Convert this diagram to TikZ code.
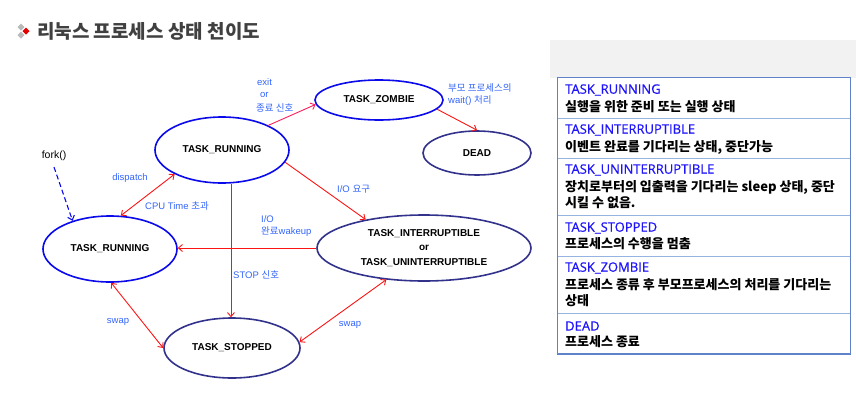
\documentclass[tikz,border=0pt]{standalone}
\usepackage{fontspec}
\setmainfont{Liberation Sans}
\newfontfamily\kr{Noto Sans CJK KR}
\newfontfamily\os[FakeBold=0.7]{Open Sans}
\usetikzlibrary{shapes.geometric,arrows.meta}
\definecolor{brightblue}{RGB}{10,10,235}
\definecolor{navy}{RGB}{50,50,140}
\definecolor{lblue}{RGB}{50,100,250}
\definecolor{arred}{RGB}{250,20,20}
\definecolor{arpink}{RGB}{250,30,90}
\definecolor{ttlblue}{RGB}{30,20,250}
\definecolor{outerb}{RGB}{95,130,200}
\definecolor{innerb}{RGB}{150,180,225}
\definecolor{hdrgray}{RGB}{242,242,242}
\definecolor{ttlgray}{RGB}{64,64,64}
\tikzset{
  st/.style={ellipse,draw,line width=1.6pt,inner sep=0pt,align=center,
    font=\fontsize{10}{14.5}\selectfont\bfseries},
  stb/.style={st,draw=brightblue},
  stn/.style={st,draw=navy},
  lbl/.style={inner sep=0pt,text=lblue,font=\fontsize{9.5}{11}\selectfont},
  tr/.style={draw=arred,line width=0.9pt,-{Straight Barb[length=4pt,width=7pt]}},
  trd/.style={draw=arred,line width=0.9pt,{Straight Barb[length=4pt,width=7pt]}-{Straight Barb[length=4pt,width=7pt]}},
  rowt/.style={anchor=west,inner sep=0pt,text=ttlblue,font=\os\fontsize{13}{15}\selectfont},
  rowk/.style={anchor=west,inner sep=0pt,text=black,font=\kr\bfseries\fontsize{13}{15}\selectfont},
}
\begin{document}
\begin{tikzpicture}[x=1pt,y=-1pt]
\useasboundingbox (0,0) rectangle (856,402);
% title
\fill[gray!55] (21,23.5) -- (24.5,27) -- (21,30.5) -- (17.5,27) -- cycle;
\fill[gray!55] (21,31.5) -- (24.5,35) -- (21,38.5) -- (17.5,35) -- cycle;
\fill[red!90!black] (26,27.5) -- (29.5,31) -- (26,34.5) -- (22.5,31) -- cycle;
\node[anchor=west,inner sep=0pt,text=ttlgray,font=\kr\bfseries\fontsize{19}{21}\selectfont] (title) at (37,31) {리눅스 프로세스 상태 천이도};
% states
\node[stb,minimum width=134,minimum height=66] (trun) at (222,150) {TASK\_RUNNING};
\node[stb,minimum width=128,minimum height=40] (tz) at (379,100) {TASK\_ZOMBIE};
\node[stn,minimum width=108,minimum height=44] (dead) at (477,153) {DEAD};
\node[stb,minimum width=134,minimum height=66] (brun) at (110,249) {TASK\_RUNNING};
\node[stn,minimum width=136,minimum height=60] (tstop) at (232,348) {TASK\_STOPPED};
\node[stn,minimum width=214,minimum height=66] (tint) at (424,248) {TASK\_INTERRUPTIBLE\\or\\TASK\_UNINTERRUPTIBLE};
\node[inner sep=0pt,font=\fontsize{10.5}{12}\selectfont] (fork) at (54,156) {fork()};
% transitions
\draw[tr,draw=arpink] (trun.28) -- (tz.184);
\draw[tr] (tz.351) -- (dead.90);
\draw[tr] (trun.349) -- (tint.154);
\draw[tr] (trun.285) -- (trun.285 |- tstop.north);
\draw[tr] (tint.west) -- (tint.west -| brun.east);
\draw[trd] (brun.72) -- (trun.207);
\draw[trd] (brun.272) -- (tstop.180);
\draw[trd] (tstop.5) -- (tint.220);
\draw[draw=brightblue,line width=1.1pt,dash pattern=on 5pt off 3pt,-{Straight Barb[length=4pt,width=7pt]}] ([yshift=-6pt]fork.south) -- (brun.143);
% labels
\node[lbl,anchor=west] (l1) at (257,82) {exit};
\node[lbl,anchor=west] (l2) at (260,95) {or};
\node[lbl,anchor=west,font=\kr\fontsize{9.5}{11}\selectfont] (l3) at (256,108) {종료 신호};
\node[lbl,anchor=west,font=\kr\fontsize{9.5}{11}\selectfont] (l4) at (448,88) {부모 프로세스의};
\node[lbl,anchor=west] (l5) at (448,101) {wait() {\kr 처리}};
\node[lbl] (l6) at (130,178) {dispatch};
\node[lbl,anchor=west] (l7) at (145,206) {CPU Time {\kr 초과}};
\node[lbl,anchor=west] (l8) at (337,189) {I/O {\kr 요구}};
\node[lbl,anchor=west] (l9) at (261,219) {I/O};
\node[lbl,anchor=west] (l10) at (261,232) {{\kr 완료}wakeup};
\node[lbl,anchor=west] (l11) at (233,275) {STOP {\kr 신호}};
\node[lbl] (l12) at (118,322) {swap};
\node[lbl] (l13) at (350,325) {swap};
% table
\fill[hdrgray] (550,40) rectangle (856,78);
\draw[innerb,line width=1pt] (557.3,118.3) -- (850.7,118.3);
\draw[innerb,line width=1pt] (557.3,158.3) -- (850.7,158.3);
\draw[innerb,line width=1pt] (557.3,215.7) -- (850.7,215.7);
\draw[innerb,line width=1pt] (557.3,256.7) -- (850.7,256.7);
\draw[innerb,line width=1pt] (557.3,313.3) -- (850.7,313.3);
\draw[outerb,line width=1.1pt] (557.3,77.7) rectangle (850.7,354);
\node[rowt] (r1t) at (565,90) {TASK\_RUNNING};
\node[rowk] (r1k) at (565,107) {실행을 위한 준비 또는 실행 상태};
\node[rowt] (r2t) at (565,130) {TASK\_INTERRUPTIBLE};
\node[rowk] (r2k) at (565,147) {이벤트 완료를 기다리는 상태, 중단가능};
\node[rowt] (r3t) at (565,170) {TASK\_UNINTERRUPTIBLE};
\node[rowk] (r3k) at (565,187) {장치로부터의 입출력을 기다리는 sleep 상태, 중단};
\node[rowk] (r3k2) at (565,203) {시킬 수 없음.};
\node[rowt] (r4t) at (565,228) {TASK\_STOPPED};
\node[rowk] (r4k) at (565,243.5) {프로세스의 수행을 멈춤};
\node[rowt] (r5t) at (565,268) {TASK\_ZOMBIE};
\node[rowk] (r5k) at (565,285) {프로세스 종류 후 부모프로세스의 처리를 기다리는};
\node[rowk] (r5k2) at (565,300.5) {상태};
\node[rowt] (r6t) at (565,326) {DEAD};
\node[rowk] (r6k) at (565,342) {프로세스 종료};
\end{tikzpicture}
\end{document}
